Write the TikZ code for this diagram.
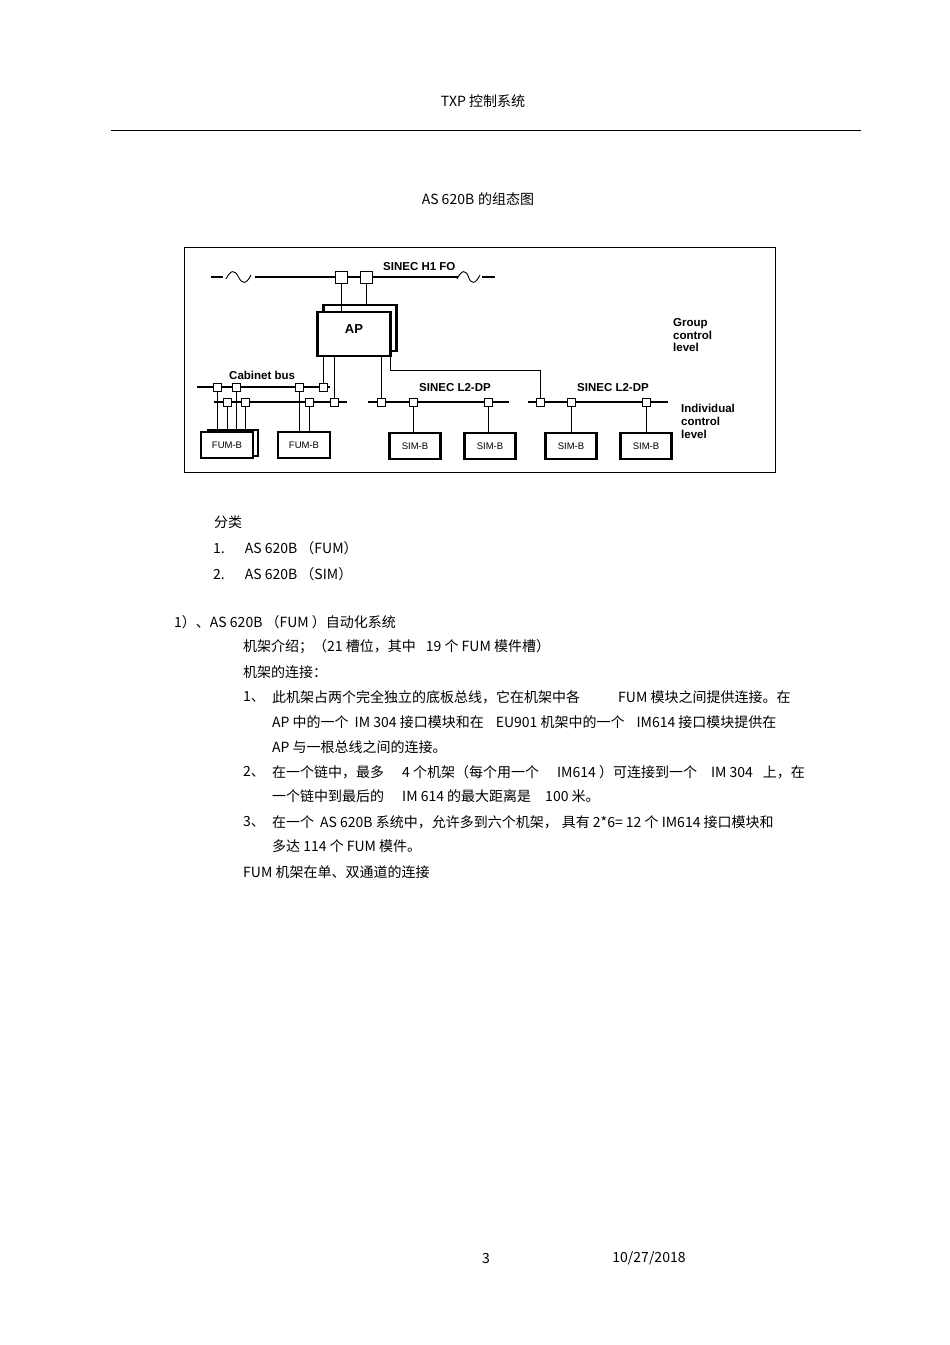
\documentclass[tikz,border=0pt]{standalone}
\usepackage{fontspec}
\setmainfont{Liberation Sans}
\newfontfamily\cjk{Noto Sans CJK SC}
\begin{document}
\begin{tikzpicture}[x=1pt,y=-1pt,
  sq/.style={draw,fill=white,minimum size=8pt,inner sep=0pt,line width=0.6pt},
  bigsq/.style={draw,fill=white,minimum size=12pt,inner sep=0pt,line width=0.7pt},
  bus/.style={line width=1.2pt},
  ln/.style={line width=0.6pt},
  box/.style={draw,fill=white,line width=2.2pt,inner sep=0pt,font=\fontsize{9.5}{10}\selectfont},
  lbl/.style={font=\fontsize{11.5}{12}\selectfont\bfseries,inner sep=0pt},
  txt/.style={anchor=west,inner sep=0pt,font=\cjk\fontsize{14}{16}\selectfont}]
\useasboundingbox (0,0) rectangle (950,1345);
% header
\node[txt,anchor=center] (hdr) at (483,101) {TXP 控制系统};
\draw[line width=0.6pt] (111,130) -- (861,130);
\node[txt,anchor=center] (ttl) at (478,199) {AS 620B\hspace{4pt}的组态图};
% frame
\draw[line width=0.6pt] (184,247) rectangle (775,472);
% H1 bus
\draw[bus] (211,277) -- (223,277) (255,277) -- (458,277) (482,277) -- (495,277);
\draw[ln,line width=0.9pt] (226,279) .. controls (231,269) and (235,270) .. (238.5,277) .. controls (242,284) and (246,285) .. (251,275);
\draw[ln,line width=0.9pt] (457,279) .. controls (462,269) and (466,270) .. (468.5,277) .. controls (471,284) and (475,285) .. (480,275);
\node[lbl,anchor=west] (h1) at (383,267) {SINEC H1 FO};
\node[bigsq] (h1a) at (341,277) {};
\node[bigsq] (h1b) at (366,277) {};
% AP
\node[draw,fill=white,line width=2.2pt,minimum width=73pt,minimum height=46pt,inner sep=0pt] (apb) at (360,328) {};
\node[draw,fill=white,line width=2.2pt,minimum width=73pt,minimum height=44pt,inner sep=0pt] (ap) at (354,334) {};
\node[lbl,font=\bfseries\fontsize{13}{14}\selectfont] (aplbl) at (354,329) {AP};
\draw[ln] (h1a) -- (h1a |- ap.north);
\draw[ln] (h1b) -- (h1b |- apb.north);
% labels right
\node[lbl,anchor=north west,align=left,font=\bfseries\fontsize{11.5}{12.8}\selectfont] (grp) at (673,318) {Group\\control\\level};
\node[lbl,anchor=north west,align=left,font=\bfseries\fontsize{11.5}{12.8}\selectfont] (ind) at (681,404) {Individual\\control\\level};
% cabinet bus
\node[lbl,anchor=west] (cab) at (229,375) {Cabinet bus};
\draw[bus] (197,387) -- (330,387);
\draw[bus] (214,402) -- (347,402);
\node[sq] (u1) at (217,387) {};
\node[sq] (u2) at (236,387) {};
\node[sq] (u3) at (299,387) {};
\node[sq] (u4) at (323,387) {};
\node[sq] (d1) at (227,402) {};
\node[sq] (d2) at (245,402) {};
\node[sq] (d3) at (309,402) {};
\node[sq] (d4) at (334,402) {};
\draw[ln] (u4) -- (u4 |- ap.south);
\draw[ln] (d4) -- (d4 |- ap.south);
% FUM boxes
\node[box,minimum width=50pt,minimum height=26pt] (f1b) at (233,443) {};
\node[box,minimum width=52pt,minimum height=26pt] (f1) at (227,445) {FUM-B};
\node[box,minimum width=52pt,minimum height=26pt] (f2) at (304,445) {FUM-B};
\foreach \s in {u1,u2,d1,d2} \draw[ln] (\s) -- (\s |- f1b.north);
\foreach \s in {u3,d3} \draw[ln] (\s) -- (\s |- f2.north);
% L2-DP 1
\node[lbl,anchor=west] (l2a) at (419,388) {SINEC L2-DP};
\draw[bus] (368,402) -- (509,402);
\node[sq] (p1) at (381,402) {};
\node[sq] (p2) at (413,402) {};
\node[sq] (p3) at (488,402) {};
\draw[ln] (p1) -- (p1 |- ap.south);
\node[box,minimum width=51pt,minimum height=26pt] (s1) at (415,446) {SIM-B};
\node[box,minimum width=51pt,minimum height=26pt] (s2) at (490,446) {SIM-B};
\draw[ln] (p2) -- (p2 |- s1.north);
\draw[ln] (p3) -- (p3 |- s2.north);
% L2-DP 2
\node[lbl,anchor=west] (l2b) at (577,388) {SINEC L2-DP};
\draw[bus] (528,402) -- (668,402);
\node[sq] (q1) at (540,402) {};
\node[sq] (q2) at (571,402) {};
\node[sq] (q3) at (646,402) {};
\coordinate (k) at (540,370);
\coordinate (ko) at (390,370);
\draw[ln] (ko |- ap.south) -- (ko) -- (k) -- (q1);
\node[box,minimum width=51pt,minimum height=26pt] (s3) at (571,446) {SIM-B};
\node[box,minimum width=51pt,minimum height=26pt] (s4) at (646,446) {SIM-B};
\draw[ln] (q2) -- (q2 |- s3.north);
\draw[ln] (q3) -- (q3 |- s4.north);
% body text
\node[txt] (t1) at (214,522) {分类};
\node[txt] (t2) at (213,548) {1.\hspace{20pt}AS 620B （FUM）};
\node[txt] (t3) at (213,574) {2.\hspace{20pt}AS 620B （SIM）};
\node[txt] (t4) at (174,622) {1）、AS 620B （FUM ）自动化系统};
\node[txt] (t5) at (243,647) {机架介绍；（21 槽位，其中\hspace{10pt}19 个 FUM 模件槽）};
\node[txt] (t6) at (243,672) {机架的连接：};
\node[txt] (n1) at (243,697) {1、};
\node[txt] (t7) at (272,697) {此机架占两个完全独立的底板总线，它在机架中各\hspace{38pt}FUM 模块之间提供连接。在};
\node[txt] (t8) at (272,722) {AP 中的一个\hspace{6pt}IM 304 接口模块和在\hspace{12pt}EU901 机架中的一个\hspace{12pt}IM614 接口模块提供在};
\node[txt] (t9) at (272,747) {AP 与一根总线之间的连接。};
\node[txt] (n2) at (243,772) {2、};
\node[txt] (t10) at (272,772) {在一个链中，最多\hspace{18pt}4 个机架（每个用一个\hspace{18pt}IM614 ）可连接到一个\hspace{14pt}IM 304\hspace{10pt}上，在};
\node[txt] (t11) at (272,796) {一个链中到最后的\hspace{18pt}IM 614 的最大距离是\hspace{14pt}100 米。};
\node[txt] (n3) at (243,822) {3、};
\node[txt] (t12) at (272,822) {在一个\hspace{6pt}AS 620B 系统中，允许多到六个机架，\hspace{4pt}具有 2*6= 12 个 IM614 接口模块和};
\node[txt] (t13) at (272,846) {多达 114 个 FUM 模件。};
\node[txt] (t14) at (243,872) {FUM 机架在单、双通道的连接};
\node[txt,anchor=center] (pg) at (486,1258) {3};
\node[txt,anchor=center] (dt) at (649,1258) {10/27/2018};
\end{tikzpicture}
\end{document}
